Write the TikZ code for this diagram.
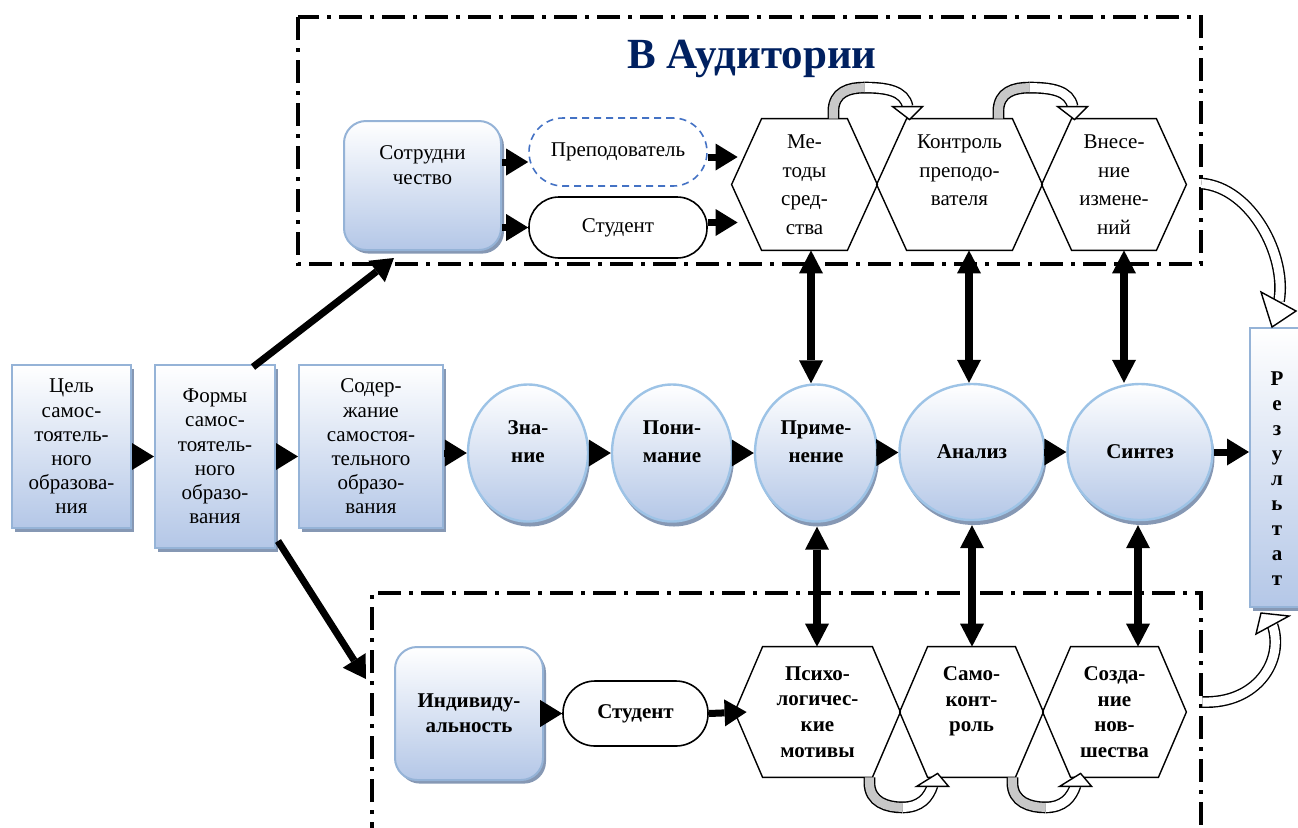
\documentclass[tikz,border=0pt]{standalone}
\usepackage{fontspec}
\setmainfont{Liberation Serif}
\usetikzlibrary{positioning,calc,arrows.meta,shapes.geometric,shadows}

\definecolor{boxblue}{RGB}{180,199,231}
\definecolor{boxline}{RGB}{149,179,215}
\definecolor{circline}{RGB}{157,195,230}
\definecolor{shadowc}{RGB}{134,152,180}
\definecolor{navy}{RGB}{0,32,96}
\definecolor{dashblue}{RGB}{68,114,196}
\definecolor{archgray}{RGB}{200,200,200}

\tikzset{
  every node/.style={font=\fontsize{10.5}{12.5}\selectfont},
  dashframe/.style={line width=2pt, dash pattern=on 11.5pt off 4pt on 2pt off 4pt},
  boxshadow/.style={drop shadow={shadow xshift=1.5pt, shadow yshift=-1.8pt, fill=shadowc, opacity=1}},
  gbox/.style={draw=boxline, line width=1pt, top color=white, bottom color=boxblue, boxshadow,
    inner sep=0pt, align=center, font=\fontsize{10.5}{12.1}\selectfont},
  rbox/.style={gbox, rounded corners=11pt},
  disc/.style={ellipse, draw=circline, line width=1.2pt, top color=white, bottom color=boxblue,
    drop shadow={shadow xshift=1pt, shadow yshift=-2.5pt, fill=shadowc, opacity=1},
    inner sep=0pt, align=center, font=\bfseries\fontsize{10.5}{14}\selectfont},
  pill/.style={draw, line width=0.8pt, minimum width=89pt, inner sep=0pt, align=center},
  hexa/.style={minimum height=65.5pt, inner sep=0pt, align=center, font=\fontsize{10.5}{14.25}\selectfont},
  hexb/.style={minimum height=65pt, inner sep=0pt, align=center, font=\bfseries\fontsize{10.5}{12.8}\selectfont},
  flow/.style={line width=3.5pt, -{Triangle[length=11pt, width=13.5pt, line width=0pt]}},
  twoway/.style={line width=4pt, {Triangle[length=11.5pt, width=12pt, line width=0pt]}-{Triangle[length=11.5pt, width=12pt, line width=0pt]}},
  band/.style={line width=0.7pt, double distance=4.5pt},
  openhead/.style={draw, line width=0.7pt, fill=white, line join=miter},
}

\begin{document}
\begin{tikzpicture}[x=0.5pt, y=-0.5pt]
  \useasboundingbox (0,0) rectangle (1298,827);
  \clip (0,0) rectangle (1298,827);

  % frames
  \draw[dashframe] (298,17) rectangle (1201,264);
  \draw[dashframe] (372,845) -- (372,593) -- (1201,593) -- (1201,845);
  \node[font=\bfseries\fontsize{21.5}{25}\selectfont, text=navy] (title) at (752,59) {В Аудитории};

  % left column
  \node[gbox, minimum width=59.5pt, minimum height=81.5pt] (g1) at (71.5,446.5) {Цель\\самос-\\тоятель-\\ного\\образова-\\ния};
  \node[gbox, minimum width=60pt, minimum height=91.5pt] (g2) at (215,456.5) {Формы\\самос-\\тоятель-\\ного\\образо-\\вания};
  \node[gbox, minimum width=72pt, minimum height=81.5pt] (g3) at (371,446.5) {Содер-\\жание\\самостоя-\\тельного\\образо-\\вания};

  % top group
  \node[rbox, minimum width=78.5pt, minimum height=64.5pt] (coop) at (422.5,185.5) {};
  \node[below=9.5pt of coop.north, align=center] (coopname) {Сотрудни\\чество};
  \node[pill, dash pattern=on 3.5pt off 2.5pt, draw=dashblue, minimum height=34pt, rounded corners=17pt] (t1) at (618,152) {Преподователь};
  \node[pill, minimum height=30.5pt, rounded corners=15pt] (t2) at (618,227.5) {Студент};
  \node[hexa, minimum width=42.5pt] (m1) at (804.5,184.5) {Ме-\\тоды\\сред-\\ства};
  \node[hexa, minimum width=52.5pt] (m2) at (959.5,184.5) {Контроль\\преподо-\\вателя\\\mbox{}};
  \node[hexa, minimum width=42pt] (m3) at (1114,184.5) {Внесе-\\ние\\измене-\\ний};

  % middle row
  \node[disc, minimum width=60pt, minimum height=68.5pt] (c1) at (528,453) {Зна-\\ние\\[-3pt]\mbox{}};
  \node[disc, minimum width=60pt, minimum height=68.5pt] (c2) at (672,453) {Пони-\\мание\\[-3pt]\mbox{}};
  \node[disc, minimum width=61pt, minimum height=68.5pt] (c3) at (816,453) {Приме-\\нение\\[-3pt]\mbox{}};
  \node[disc, minimum width=72.5pt, minimum height=68pt] (c4) at (972,452) {Анализ};
  \node[disc, minimum width=72.5pt, minimum height=68pt] (c5) at (1140,452) {Синтез};
  \node[gbox, minimum width=27pt, minimum height=139.5pt, font=\bfseries\fontsize{10.5}{12.5}\selectfont] (r) at (1277,467.5)
    {\mbox{}\\[5.5pt]Р\\е\\з\\у\\л\\ь\\т\\а\\т};

  % bottom group
  \node[rbox, minimum width=74pt, minimum height=66.5pt, font=\bfseries\fontsize{10.5}{12.5}\selectfont] (ind) at (469,713.5) {Индивиду-\\альность};
  \node[pill, minimum width=72.5pt, minimum height=32.5pt, rounded corners=16pt, font=\bfseries\fontsize{10.5}{12.5}\selectfont] (s2) at (635.5,713.5) {Студент};
  \node[hexb, minimum width=54.5pt] (p1) at (817.5,712) {Психо-\\логичес-\\кие\\мотивы};
  \node[hexb, minimum width=43.5pt] (p2) at (971.5,712) {Само-\\конт-\\роль\\\mbox{}};
  \node[hexb, minimum width=43.5pt] (p3) at (1114.5,712) {Созда-\\ние\\нов-\\шества};

  % hexagon outlines
  \foreach \n/\s in {m1/15pt, m2/15pt, m3/15pt, p1/14pt, p2/14pt, p3/14pt}{
    \draw[line width=0.7pt] (\n.north west) -- (\n.north east) -- ([xshift=\s]\n.east)
      -- (\n.south east) -- (\n.south west) -- ([xshift=-\s]\n.west) -- cycle;
    \coordinate (\n-l) at ([xshift=-\s]\n.west);
  }

  % straight arrows
  \draw[flow] (g1.east |- g2) -- (g2);
  \draw[flow] (g2.east) -- (g3.west |- g2.east);
  \draw[flow] (g3.east |- c1) -- (c1);
  \foreach \hA/\hB in {c1/c2, c2/c3, c3/c4, c4/c5}
    \draw[flow] (\hA) -- (\hB);
  \draw[flow] (c5) -- (c5 -| r.west);
  \draw[flow] ($(g2.north east)+(-23,3)$) -- ($(coop.south west)+(51,7)$);
  \draw[flow] ($(g2.south east)+(2,-8)$) -- ($(ind.north west)+(-28,33)$);
  \draw[flow] ($(coop.east |- t1)+(0,10)$) -- ($(t1.west)+(0,10)$);
  \draw[flow] (coop.east |- t2) -- (t2.west);
  \draw[flow] ($(t1.east)+(0,5)$) -- ($(m1-l |- t1)+(6,5)$);
  \draw[flow] ($(t2.east)+(0,-5)$) -- ($(m1-l |- t2)+(6,-5)$);
  \draw[flow] (ind) -- (s2);
  \draw[flow] (s2.east) -- ($(p1-l)+(12,0)$);

  % vertical links
  \foreach \cn/\hx/\dx in {c3/m1/-5, c4/m2/-3, c5/m3/-16}
    \draw[twoway] ($(\cn.north)+(\dx,0)$) -- ($(\cn.north |- \hx.south)+(\dx,0)$);
  \foreach \cn/\hx/\dx in {c3/p1/1, c4/p2/0, c5/p3/-2}
    \draw[twoway] ($(\cn.south)+(\dx,4)$) -- ($(\cn.south |- \hx.north)+(\dx,0)$);

  % bent arrows over the top row
  \foreach \hA/\hB in {m1/m2, m2/m3}{
    \draw[band, double=archgray] ($(\hA.north east)+(-14,0)$) -- ++(0,-7)
      .. controls +(0,-20) and +(-15,0) .. ($(\hA.north east)+(17,-31)$);
    \draw[band, double=white] ($(\hA.north east)+(17,-31)$)
      .. controls +(22,0) and +(-3,-16) .. ($(\hB.north west)+(1,-12)$);
    \draw[openhead] ($(\hB.north west)+(-14,-12)$) -- ($(\hB.north west)+(16,-12)$) -- ($(\hB.north west)+(3,1)$) -- cycle;
  }
  % bent arrows under the bottom row
  \foreach \hA/\hB in {p1/p2, p2/p3}{
    \draw[band, double=archgray] ($(\hA.south east)+(-3,0)$) -- ++(0,5)
      .. controls +(0,20) and +(-15,0) .. ($(\hA.south east)+(30,30)$);
    \draw[band, double=white] ($(\hA.south east)+(30,30)$)
      .. controls +(18,0) and +(-4,12) .. ($(\hB.south west)+(5,8)$);
    \draw[openhead] ($(\hB.south west)+(-11,9)$) -- ($(\hB.south west)+(21,9)$) -- ($(\hB.south west)+(10,-4)$) -- cycle;
  }

  % arrows to the result
  \draw[band, double=white] ($(m3.east)+(45,-1)$) .. controls +(50,4) and +(8,-45) .. ($(r.north west)+(30,-26)$);
  \draw[openhead] ($(r.north west)+(12,-35)$) -- ($(r.north west)+(47,-16)$) -- ($(r.north west)+(23,0)$) -- cycle;
  \draw[band, double=white] ($(p3.east)+(44,-10)$) .. controls +(55,2) and +(12,35) .. ($(r.south west)+(23.5,17)$);
  \draw[openhead] ($(r.south west)+(7,26)$) -- ($(r.south west)+(40,8)$) -- ($(r.south west)+(12,5)$) -- cycle;
\end{tikzpicture}
\end{document}
